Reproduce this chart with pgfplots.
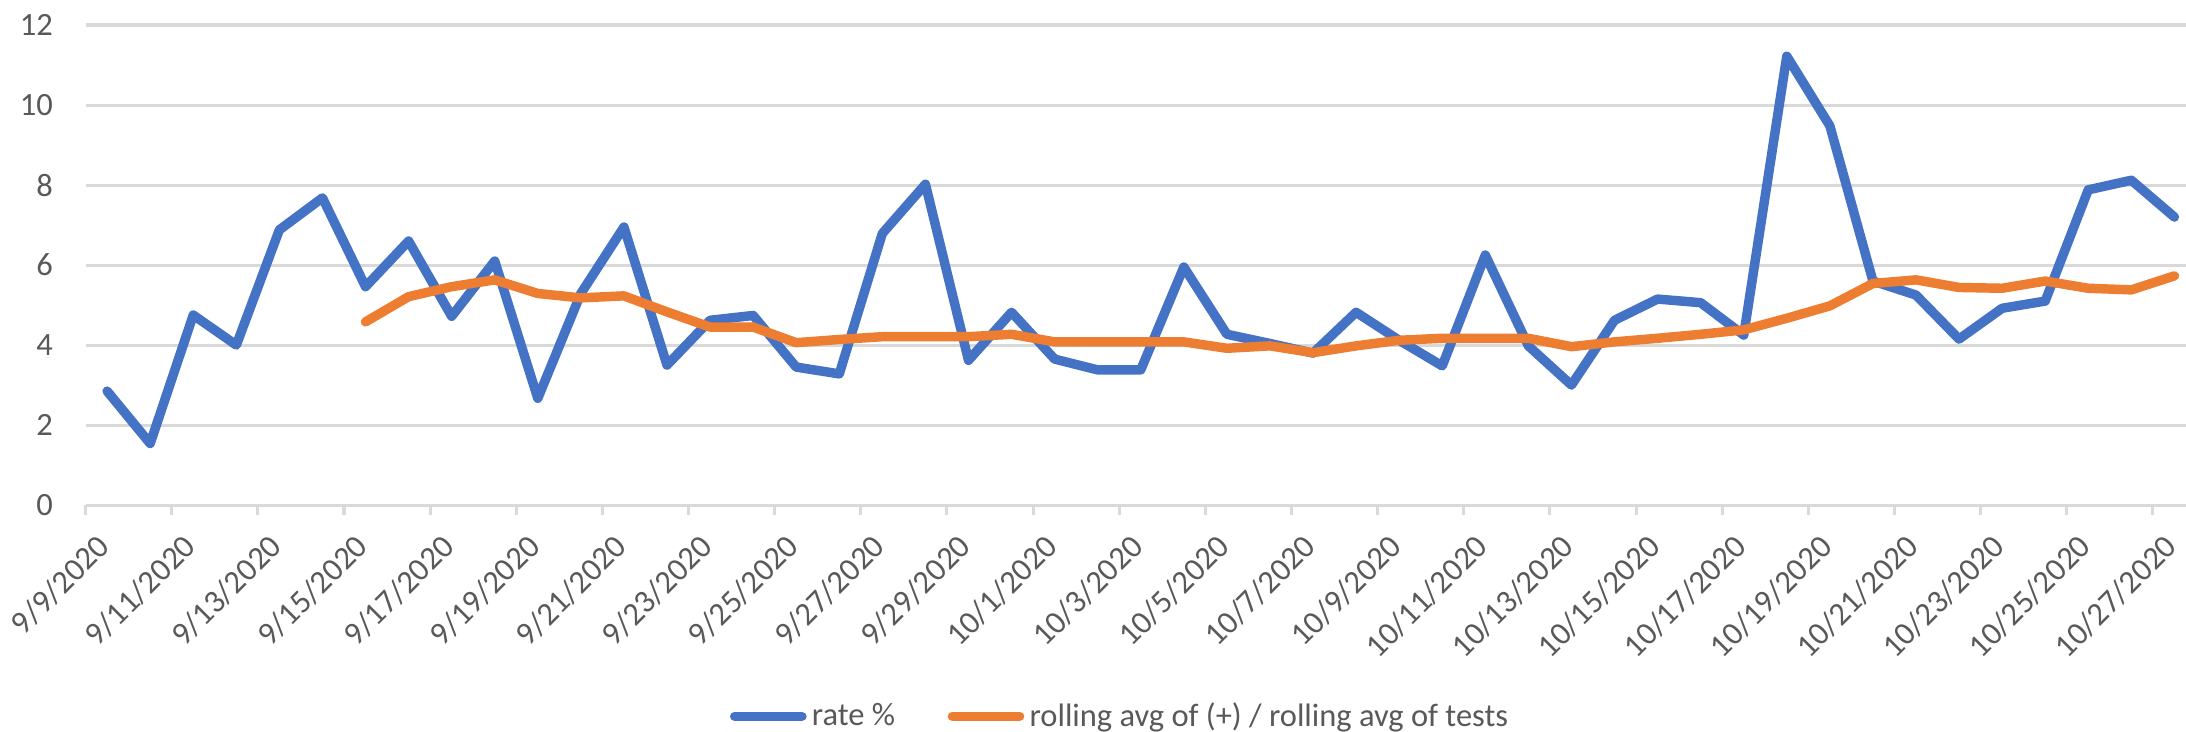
\documentclass[border=0pt]{standalone}
\usepackage{pgfplots}
\pgfplotsset{compat=1.18}
\usepackage{pgfplotstable}
\usepackage{fontspec}
\setmainfont{Carlito}
\definecolor{sblue}{HTML}{4472C4}
\definecolor{sorange}{HTML}{ED7D31}
\definecolor{gridgray}{HTML}{D9D9D9}
\definecolor{txtgray}{HTML}{595959}
\pgfplotstableread{
x y
0 2.85
1 1.54
2 4.75
3 4.0
4 6.88
5 7.68
6 5.46
7 6.6
8 4.72
9 6.1
10 2.67
11 5.29
12 6.95
13 3.5
14 4.62
15 4.74
16 3.45
17 3.28
18 6.79
19 8.02
20 3.62
21 4.82
22 3.65
23 3.38
24 3.38
25 5.95
26 4.27
27 4.04
28 3.8
29 4.82
30 4.12
31 3.48
32 6.25
33 3.98
34 3.0
35 4.62
36 5.15
37 5.06
38 4.25
39 11.22
40 9.48
41 5.6
42 5.25
43 4.15
44 4.92
45 5.1
46 7.88
47 8.12
48 7.2
}\rate
\pgfplotstableread{
x y
6 4.58
7 5.21
8 5.46
9 5.63
10 5.29
11 5.18
12 5.23
13 4.83
14 4.45
15 4.45
16 4.06
17 4.14
18 4.21
19 4.21
20 4.21
21 4.27
22 4.08
23 4.08
24 4.08
25 4.08
26 3.92
27 3.98
28 3.81
29 3.98
30 4.12
31 4.17
32 4.17
33 4.17
34 3.96
35 4.08
36 4.17
37 4.27
38 4.38
39 4.67
40 4.98
41 5.54
42 5.63
43 5.44
44 5.42
45 5.6
46 5.42
47 5.38
48 5.73
}\roll
\begin{document}
\begin{tikzpicture}
\begin{axis}[
 scale only axis, width=756pt, height=172.8pt,
 xmin=-0.5, xmax=48.27, ymin=0, ymax=12,
 ytick={0,2,...,12},
 xtick={0,2,...,48},
 xticklabels={9/9/2020,9/11/2020,9/13/2020,9/15/2020,9/17/2020,9/19/2020,9/21/2020,9/23/2020,9/25/2020,9/27/2020,9/29/2020,10/1/2020,10/3/2020,10/5/2020,10/7/2020,10/9/2020,10/11/2020,10/13/2020,10/15/2020,10/17/2020,10/19/2020,10/21/2020,10/23/2020,10/25/2020,10/27/2020},
 minor xtick={-0.5,1.5,...,47.5},
 major tick length=0pt,
 minor tick length=3.6pt,
 tick align=outside,
 xtick pos=bottom, ytick pos=left,
 minor tick style={draw=gridgray, line width=1.1pt},
 axis line style={draw=none},
 ymajorgrids, major grid style={draw=gridgray, line width=1.1pt},
 tick label style={font=\fontsize{11.7}{14}\selectfont, text=txtgray},
 /pgf/number format/assume math mode=true,
 yticklabel style={anchor=east, inner sep=0pt, xshift=-11.6pt},
 xticklabel style={xshift=1.6pt, yshift=-15.5pt, rotate=45, anchor=base east, inner sep=0pt},
 legend style={at={(axis description cs:0.4933,0)}, anchor=center, yshift=-76pt, draw=none, fill=none, font=\fontsize{11.7}{14}\selectfont, text=txtgray, nodes={inner xsep=1.9pt}, /tikz/every even column/.append style={column sep=17pt}},
 legend columns=-1,
 legend image code/.code={\draw[#1, line width=3.4pt, line cap=round] (0pt,0pt) -- (24.2pt,0pt);},
 clip=false,
]
\addplot[sblue, line width=3.4pt, line join=round, line cap=round] table[x=x,y=y] {\rate};
\addlegendentry{rate \%}
\addplot[sorange, line width=3.4pt, line join=round, line cap=round] table[x=x,y=y] {\roll};
\addlegendentry{rolling avg of (+) / rolling avg of tests}
\coordinate (bl) at (rel axis cs:0,0);
\coordinate (tr) at (rel axis cs:1,1);
\end{axis}
\pgfresetboundingbox
\path[use as bounding box] ([shift={(-30.8pt,-81.4pt)}]bl) rectangle ([shift={(0pt,9pt)}]tr);
\end{tikzpicture}
\end{document}
